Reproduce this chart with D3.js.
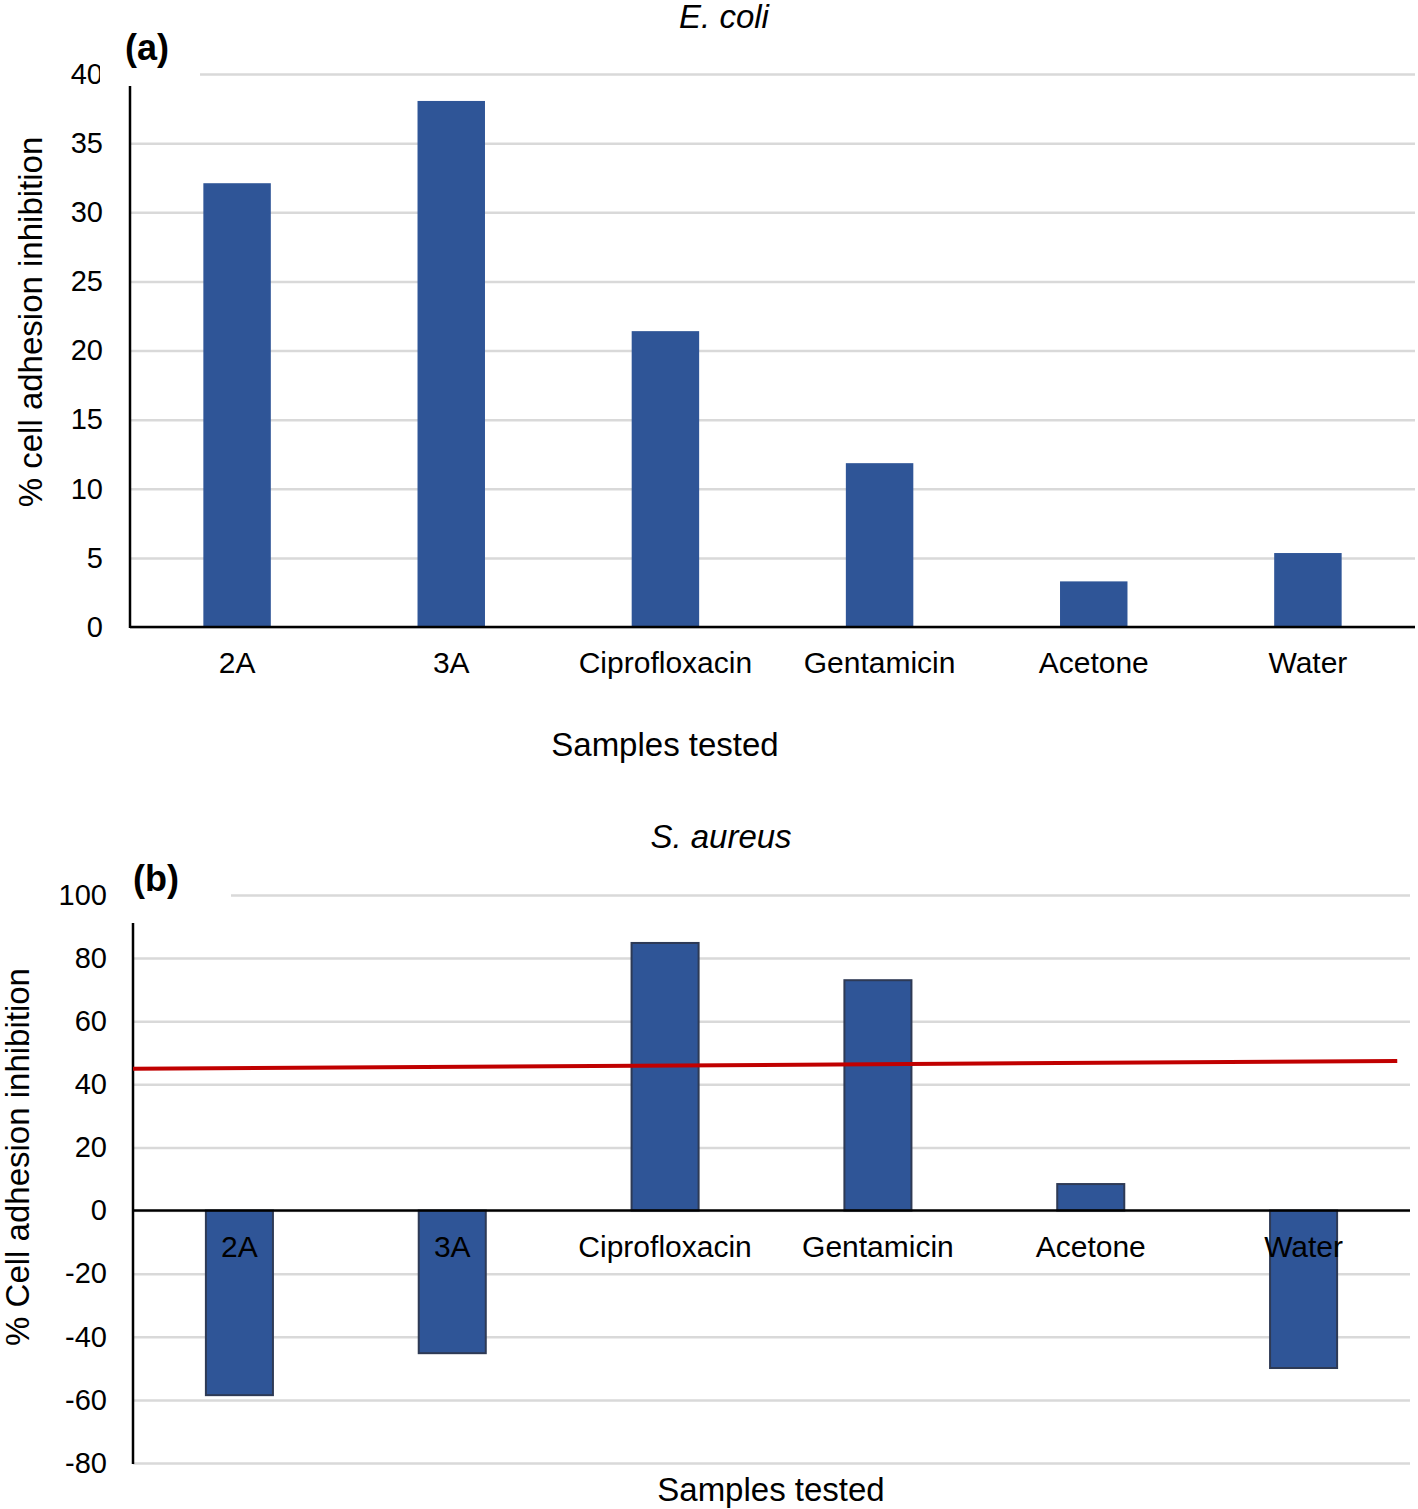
<!DOCTYPE html>
<html>
<head>
<meta charset="utf-8">
<script src="https://cdn.jsdelivr.net/npm/d3@7"></script>
<style>
  body { margin: 0; background: #fff; }
  svg { display: block; font-family: "Liberation Sans", Arial, sans-serif; }
</style>
</head>
<body>
<svg width="1418" height="1509"></svg>
<script>
// Data
const categories = ["2A", "3A", "Ciprofloxacin", "Gentamicin", "Acetone", "Water"];
const ecoliValues = [32.1, 38.05, 21.4, 11.85, 3.3, 5.35];
const aureusValues = [-58.5, -45.2, 84.8, 73.0, 8.4, -49.9];
const ecoliTicks = [0, 5, 10, 15, 20, 25, 30, 35, 40];
const aureusTicks = [-80, -60, -40, -20, 0, 20, 40, 60, 80, 100];
// red reference line: value at left edge and at right end
const aureusLine = [44.9, 47.4];

const svg = d3.select("svg");
const barColor = "#2f5597";
const gridColor = "#d9d9d9";

const renderPanel = (cfg) => {
  const g = svg.append("g");

  const x = d3.scaleBand()
    .domain(categories)
    .range([cfg.left, cfg.right])
    .paddingInner(0)
    .paddingOuter(0);

  const y = d3.scaleLinear()
    .domain(cfg.domain)
    .range([cfg.bottom, cfg.top]);

  const barW = x.bandwidth() * 0.315;

  // gridlines
  g.append("g")
    .attr("transform", `translate(${cfg.left},0)`)
    .call(d3.axisLeft(y).tickValues(cfg.ticks).tickSize(-(cfg.right - cfg.left)).tickFormat(""))
    .call(a => a.select(".domain").remove())
    .call(a => a.selectAll("line").attr("stroke", gridColor).attr("stroke-width", 2.5));

  // tick labels (plain hyphen for negatives, like the original)
  g.append("g")
    .attr("transform", `translate(${cfg.left},0)`)
    .call(d3.axisLeft(y).tickValues(cfg.ticks).tickSize(0).tickPadding(cfg.tickPad).tickFormat(d => String(d)))
    .call(a => a.select(".domain").remove())
    .call(a => a.selectAll("text").attr("font-size", 29).attr("fill", "#000")
      .attr("font-family", "Liberation Sans, Arial, sans-serif"));

  // bars
  g.selectAll("rect.bar")
    .data(cfg.values)
    .enter()
    .append("rect")
    .attr("class", "bar")
    .attr("x", (d, i) => x(categories[i]) + (x.bandwidth() - barW) / 2)
    .attr("y", d => y(Math.max(0, d)))
    .attr("width", barW)
    .attr("height", d => Math.abs(y(d) - y(0)))
    .attr("fill", barColor)
    .attr("stroke", cfg.barStroke || "none")
    .attr("stroke-width", 2);

  // y axis line
  g.append("line")
    .attr("x1", cfg.left).attr("x2", cfg.left)
    .attr("y1", cfg.axisTop).attr("y2", cfg.bottom + 1)
    .attr("stroke", "#000").attr("stroke-width", 2.5);

  // category axis line at zero
  g.append("line")
    .attr("x1", cfg.left).attr("x2", cfg.right)
    .attr("y1", y(0)).attr("y2", y(0))
    .attr("stroke", "#000").attr("stroke-width", 2.5);

  // optional red line
  if (cfg.line) {
    const x0 = cfg.left;
    const x1 = x(categories[categories.length - 1]) + x.bandwidth() * 0.94;
    g.append("path")
      .datum(cfg.line)
      .attr("d", d3.line().x((d, i) => i === 0 ? x0 : x1).y(d => y(d)))
      .attr("stroke", "#c00000")
      .attr("stroke-width", 4)
      .attr("fill", "none");
  }

  // category labels
  g.selectAll("text.cat")
    .data(categories)
    .enter()
    .append("text")
    .attr("class", "cat")
    .attr("x", d => x(d) + x.bandwidth() / 2)
    .attr("y", y(0) + cfg.catOffset)
    .attr("text-anchor", "middle")
    .attr("dominant-baseline", "central")
    .attr("font-size", 30)
    .text(d => d);

  // white label box in the top-left corner, with panel letter
  g.append("rect")
    .attr("x", cfg.box[0]).attr("y", cfg.box[1])
    .attr("width", cfg.box[2]).attr("height", cfg.box[3])
    .attr("fill", "#fff");

  g.append("text")
    .attr("x", cfg.letterPos[0]).attr("y", cfg.letterPos[1])
    .attr("text-anchor", "middle")
    .attr("dominant-baseline", "central")
    .attr("font-size", 36)
    .attr("font-weight", "bold")
    .text(cfg.letter);

  // title
  g.append("text")
    .attr("x", cfg.titlePos[0]).attr("y", cfg.titlePos[1])
    .attr("text-anchor", "middle")
    .attr("dominant-baseline", "central")
    .attr("font-size", 33)
    .attr("font-style", "italic")
    .text(cfg.title);

  // y axis title
  g.append("text")
    .attr("transform", `translate(${cfg.yTitlePos[0]},${cfg.yTitlePos[1]}) rotate(-90)`)
    .attr("text-anchor", "middle")
    .attr("dominant-baseline", "central")
    .attr("font-size", 33)
    .text(cfg.yTitle);

  // x axis title
  g.append("text")
    .attr("x", cfg.xTitlePos[0]).attr("y", cfg.xTitlePos[1])
    .attr("text-anchor", "middle")
    .attr("dominant-baseline", "central")
    .attr("font-size", 33)
    .text("Samples tested");
};

// (a) E. coli
renderPanel({
  values: ecoliValues,
  ticks: ecoliTicks,
  domain: [0, 40],
  left: 130, right: 1415,
  top: 74, bottom: 627, axisTop: 86,
  tickPad: 27,
  catOffset: 35,
  box: [100, 28, 100, 58],
  letter: "(a)", letterPos: [147, 47],
  title: "E. coli", titlePos: [724, 16],
  yTitle: "% cell adhesion inhibition", yTitlePos: [30, 322],
  xTitlePos: [665, 744]
});

// (b) S. aureus
renderPanel({
  values: aureusValues,
  ticks: aureusTicks,
  domain: [-80, 100],
  left: 133, right: 1410,
  top: 895, bottom: 1463, axisTop: 923,
  tickPad: 26,
  catOffset: 36,
  barStroke: "#2e3a55",
  line: aureusLine,
  box: [112, 850, 119, 73],
  letter: "(b)", letterPos: [156, 878],
  title: "S. aureus", titlePos: [721, 836],
  yTitle: "% Cell adhesion inhibition", yTitlePos: [17, 1157],
  xTitlePos: [771, 1489]
});
</script>
</body>
</html>
